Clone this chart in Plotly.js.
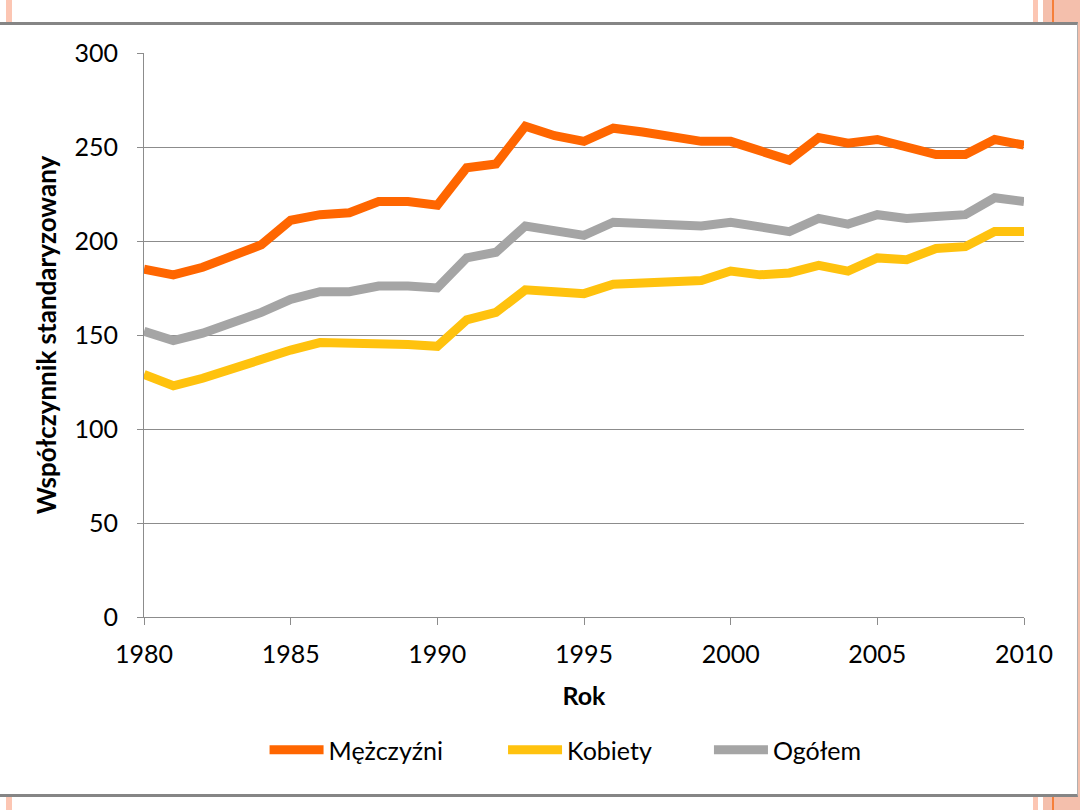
<!DOCTYPE html>
<html>
<head>
<meta charset="utf-8">
<script src="https://cdn.plot.ly/plotly-3.0.1.min.js"></script>
<style>
  html, body { margin: 0; padding: 0; width: 1080px; height: 810px; overflow: hidden; background: #ffffff; }
  .deco { position: absolute; top: 0; height: 810px; }
  #frame { position: absolute; left: -1px; top: 22px; width: 1078px; height: 769px; background: #ffffff;
           border-top: 3px solid #858585; border-bottom: 3px solid #858585; border-right: 1px solid #b0b0b0; }
  #chart { position: absolute; left: 0; top: 0; width: 1080px; height: 810px; }
</style>
</head>
<body>
<div class="deco" style="left:6px;width:6px;background:#fcc6b3;"></div>
<div class="deco" style="left:1033px;width:5px;background:#fcc6b3;"></div>
<div class="deco" style="left:1043px;width:37px;background:#f4bfac;"></div>
<div class="deco" style="left:1052px;width:2px;background:#f57f3a;"></div>
<div id="frame"></div>
<div id="chart"></div>
<script>
const years = [1980,1981,1982,1983,1984,1985,1986,1987,1988,1989,1990,1991,1992,1993,1994,1995,1996,1997,1998,1999,2000,2001,2002,2003,2004,2005,2006,2007,2008,2009,2010];
const mezczyzni = [185,182,186,192,198,211,214,215,221,221,219,239,241,261,256,253,260,258,256,253,253,248,243,255,252,254,250,246,246,254,251];
const kobiety = [129,123,127,132,138,142,146,146,146,145,144,158,162,174,173,172,177,178,178,179,184,182,183,187,184,191,190,196,197,205,205];
const ogolem = [152,147,151,156,162,169,173,173,176,176,175,191,194,208,206,203,210,209,209,208,210,207,205,212,209,214,212,213,214,223,221];
const seriesNames = ['Mężczyźni','Kobiety','Ogółem'];
const yTicks = [0,50,100,150,200,250,300];
const xTicks = [1980,1985,1990,1995,2000,2005,2010];

const colors = ['#ff6600','#ffc20e','#a5a5a5'];
const font = 'Lato, "Open Sans", "DejaVu Sans", sans-serif';
const legendIds = ['legend','legend2','legend3'];
const legendX = [0.137, 0.408, 0.642];
const data = [mezczyzni, kobiety, ogolem].map((vals, i) => ({
  x: years, y: vals, name: seriesNames[i], type: 'scatter', mode: 'lines',
  line: {color: colors[i], width: 9}, legend: legendIds[i]
}));

const legendBase = (x) => ({orientation: 'h', x: x, xanchor: 'left', y: -0.236, yanchor: 'middle',
  font: {family: font, size: 25, color: '#000'}, itemwidth: 54, bgcolor: 'rgba(0,0,0,0)'});

const layout = {
  width: 1080, height: 810,
  margin: {l: 144, r: 56, t: 53, b: 193},
  paper_bgcolor: 'rgba(0,0,0,0)', plot_bgcolor: 'rgba(0,0,0,0)',
  font: {family: font, size: 25, color: '#000'},
  showlegend: true,
  legend: legendBase(legendX[0]),
  legend2: legendBase(legendX[1]),
  legend3: legendBase(legendX[2]),
  xaxis: {
    range: [1980, 2010], tickvals: xTicks, ticktext: xTicks.map(String),
    showgrid: false, zeroline: false, showline: true, linecolor: '#8c8c8c', linewidth: 1,
    ticks: 'outside', ticklen: 7, tickcolor: '#8c8c8c', ticklabelstandoff: 8,
    tickfont: {family: font, size: 25, color: '#000'},
    title: {text: '<b>Rok</b>', font: {family: font, size: 25, color: '#000'}, standoff: 20}
  },
  yaxis: {
    range: [0, 300], tickvals: yTicks, ticktext: yTicks.map(String),
    showgrid: true, gridcolor: '#8c8c8c', gridwidth: 1, zeroline: false,
    showline: true, linecolor: '#8c8c8c', linewidth: 1,
    ticks: 'outside', ticklen: 6, tickcolor: '#8c8c8c', ticklabelstandoff: 14,
    tickfont: {family: font, size: 25, color: '#000'},
    title: {text: '<b>Współczynnik standaryzowany</b>', font: {family: font, size: 26, color: '#000'}, standoff: 10}
  }
};
Plotly.newPlot('chart', data, layout, {displayModeBar: false, staticPlot: true});
</script>
</body>
</html>
